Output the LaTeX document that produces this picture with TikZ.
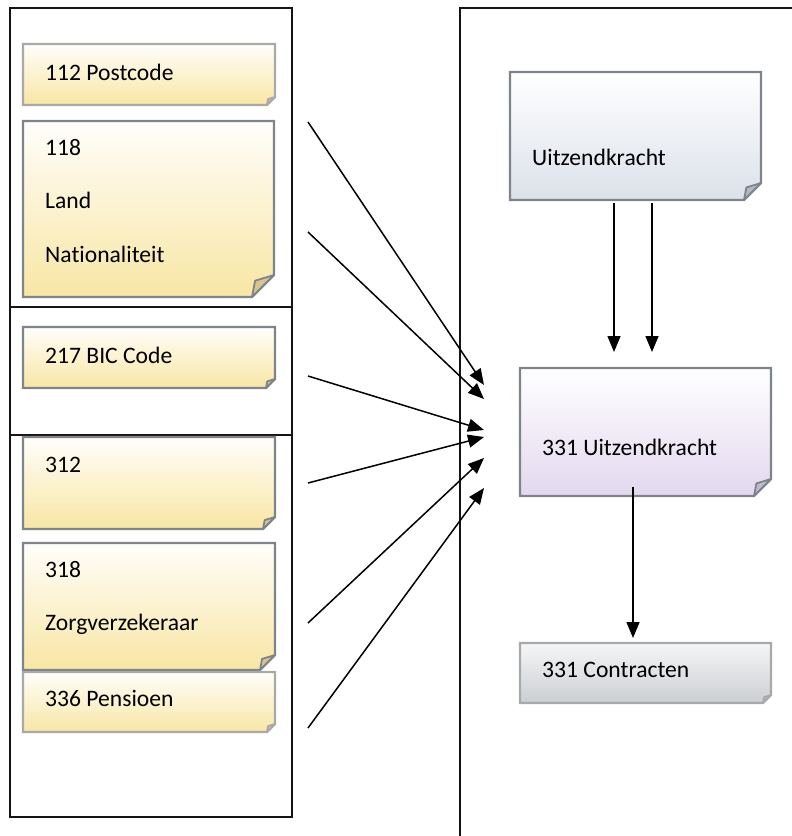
\documentclass[tikz,border=0pt]{standalone}
\usepackage{fontspec}
\setmainfont{Carlito}[Ligatures=NoCommon]
\usetikzlibrary{arrows.meta}

\definecolor{noteedge}{HTML}{7F848A}
\definecolor{noteedgelight}{HTML}{A9A9A9}
\definecolor{goldtop}{HTML}{FFFEFB}
\definecolor{goldbot}{HTML}{F8E6A4}
\definecolor{goldfold}{HTML}{D8C48E}
\definecolor{bluetop}{HTML}{FFFFFF}
\definecolor{bluebot}{HTML}{DCE1EA}
\definecolor{bluefold}{HTML}{B3B9C6}
\definecolor{lilactop}{HTML}{FFFFFF}
\definecolor{lilacbot}{HTML}{E3D8EF}
\definecolor{lilacfold}{HTML}{C4B9D4}
\definecolor{greytop}{HTML}{F5F6F7}
\definecolor{greybot}{HTML}{CBCED2}
\definecolor{greyfold}{HTML}{B7BABF}
\definecolor{frame}{HTML}{151515}

\tikzset{
  panel/.style={draw=frame, line width=1.8},
  notetext/.style={anchor=base west, inner sep=0, text=black,
    font=\fontsize{23.6}{28}\selectfont},
  arr/.style={draw=black, line width=1.5,
    -{Triangle[length=16pt,width=13pt]}},
}

% sticky note with a folded lower right corner
% #1 name, #2 x1, #3 y1, #4 x2, #5 y2, #6 fold size, #7 palette, #8 edge colour
\newcommand\stickynote[8]{%
  \shade[top color=#7top, bottom color=#7bot]
    (#2,#3) -- (#4,#3) -- (#4,{#5-#6}) -- ({#4-#6},#5) -- (#2,#5) -- cycle;
  \draw[#8, line width=2.4, line join=miter]
    (#2,#3) -- (#4,#3) -- (#4,{#5-#6}) -- ({#4-#6},#5) -- (#2,#5) -- cycle;
  \filldraw[fill=#7fold, draw=#8, line width=1.8, line join=round]
    ({#4-#6},#5) -- ({#4-0.86*#6},{#5-0.74*#6}) -- (#4,{#5-#6}) -- cycle;
  \node[inner sep=0, minimum width={#4-#2}, minimum height={#5-#3}]
    (#1) at ({(#2+#4)/2},{(#3+#5)/2}) {};
}

\begin{document}
\begin{tikzpicture}[x=1pt, y=-1pt]
\useasboundingbox (0,0) rectangle (792,836);

% left column with its three sections
\draw[panel] (10,8) rectangle (292,817);
\draw[panel] (10,307) -- (292,307);
\draw[panel] (10,435) -- (292,435);

% right column, running off the page
\draw[panel] (792,8) -- (460,8) -- (460,836);

% notes in the left column
\stickynote{postcode}{23}{44}{275}{105}{8}{gold}{noteedgelight}
\node[notetext] (tpostcode) at (45,80) {112 Postcode};

\stickynote{land}{23}{121}{274}{297}{22}{gold}{noteedge}
\node[notetext] (tland1) at (45,155) {118};
\node[notetext] (tland2) at (45,208) {Land};
\node[notetext] (tland3) at (45,262) {Nationaliteit};

\stickynote{bic}{23}{327}{275}{388}{9}{gold}{noteedge}
\node[notetext] (tbic) at (45,363) {217 BIC Code};

\stickynote{n312}{23}{437}{275}{529}{12}{gold}{noteedge}
\node[notetext] (t312) at (45,472) {312};

\stickynote{zorg}{23}{543}{275}{670}{15}{gold}{noteedge}
\node[notetext] (tzorg1) at (45,577) {318};
\node[notetext] (tzorg2) at (45,630) {Zorgverzekeraar};

\stickynote{pensioen}{23}{672}{275}{732}{8}{gold}{noteedgelight}
\node[notetext] (tpensioen) at (45,706) {336 Pensioen};

% notes in the right column
\stickynote{uitz}{510}{72}{761}{200}{17}{blue}{noteedge}
\node[notetext] (tuitz) at (532,165) {Uitzendkracht};

\stickynote{uitz331}{520}{368}{771}{496}{17}{lilac}{noteedge}
\node[notetext] (tuitz331) at (542,455) {331 Uitzendkracht};

\stickynote{contract}{520}{643}{771}{703}{8}{grey}{noteedgelight}
\node[notetext] (tcontract) at (542,677) {331 Contracten};

% arrow ends
\coordinate (s1) at (308,122);  \coordinate (e1) at (484,385);
\coordinate (s2) at (308,232);  \coordinate (e2) at (484,399);
\coordinate (s3) at (308,376);  \coordinate (e3) at (484,430);
\coordinate (s4) at (308,483);  \coordinate (e4) at (484,437);
\coordinate (s5) at (308,623);  \coordinate (e5) at (484,458);
\coordinate (s6) at (308,728);  \coordinate (e6) at (484,488);

\foreach \i in {1,...,6} \draw[arr] (s\i) -- (e\i);

% flow inside the right column
\coordinate (d1s) at (614,203);  \coordinate (d1e) at (614,352);
\coordinate (d2s) at (652,203);  \coordinate (d2e) at (652,352);
\coordinate (d3s) at (633,487);  \coordinate (d3e) at (633,638);
\draw[arr] (d1s) -- (d1e);
\draw[arr] (d2s) -- (d2e);
\draw[arr] (d3s) -- (d3e);
\end{tikzpicture}
\end{document}
